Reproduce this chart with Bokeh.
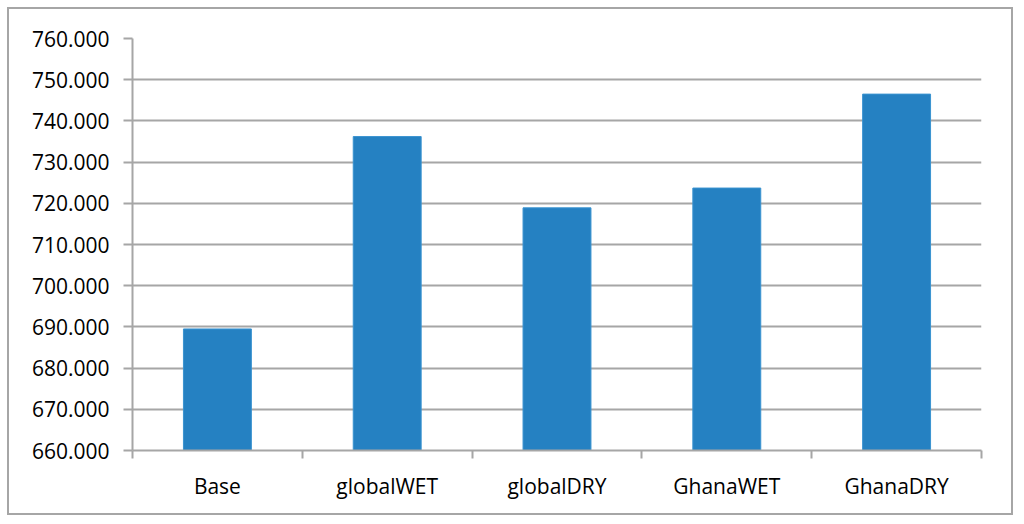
from bokeh.plotting import figure
from bokeh.models import FixedTicker, NumeralTickFormatter, Range1d, ColumnDataSource
from bokeh.embed import file_html
from bokeh.resources import INLINE

categories = ["Base", "globalWET", "globalDRY", "GhanaWET", "GhanaDRY"]
values = [689.5, 736.2, 718.9, 723.7, 746.5]
y_ticks = [660, 670, 680, 690, 700, 710, 720, 730, 740, 750, 760]

FONT = "Open Sans"
GRID = "#a6a6a6"
BAR = "#2581c2"

xs = [i + 0.5 for i in range(len(categories))]
src = ColumnDataSource(dict(x=xs, top=values, cat=categories))

p = figure(width=1006, height=508, output_backend="svg", toolbar_location=None,
           x_range=Range1d(0, len(categories)), y_range=Range1d(660, 760),
           min_border_left=123, min_border_right=34, min_border_top=29, min_border_bottom=67)
p.styles = {"border": "2px solid #a6a6a6", "box-sizing": "border-box",
            "margin-left": "7px", "margin-top": "7px"}
p.outline_line_color = None
p.background_fill_color = "white"
p.border_fill_color = "white"

p.vbar(x="x", top="top", bottom=660, width=0.4, source=src,
       fill_color=BAR, line_color="#3a93d0", line_width=1)

# y axis
ya = p.yaxis[0]
ya.ticker = FixedTicker(ticks=y_ticks)
ya.formatter = NumeralTickFormatter(format="0.000")
ya.axis_line_color = GRID
ya.axis_line_width = 2
ya.major_tick_line_color = GRID
ya.major_tick_line_width = 2
ya.major_tick_out = 9
ya.major_tick_in = 0
ya.minor_tick_line_color = None
ya.major_label_text_font = FONT
ya.major_label_text_font_size = "21px"
ya.major_label_text_color = "black"
ya.major_label_standoff = 14

# x axis: labels at centres, ticks at category boundaries
xa = p.xaxis[0]
xa.ticker = FixedTicker(ticks=xs, minor_ticks=list(range(len(categories) + 1)))
xa.major_label_overrides = {x: c for x, c in zip(xs, categories)}
xa.axis_line_color = GRID
xa.axis_line_width = 2
xa.major_tick_line_color = None
xa.major_tick_out = 0
xa.major_tick_in = 0
xa.minor_tick_line_color = GRID
xa.minor_tick_line_width = 2
xa.minor_tick_out = 8
xa.minor_tick_in = 0
xa.major_label_text_font = FONT
xa.major_label_text_font_size = "21px"
xa.major_label_text_color = "black"
xa.major_label_standoff = 13

p.xgrid.grid_line_color = None
p.ygrid.grid_line_color = GRID
p.ygrid.grid_line_width = 2

open("out.html", "w").write(file_html(p, INLINE))
